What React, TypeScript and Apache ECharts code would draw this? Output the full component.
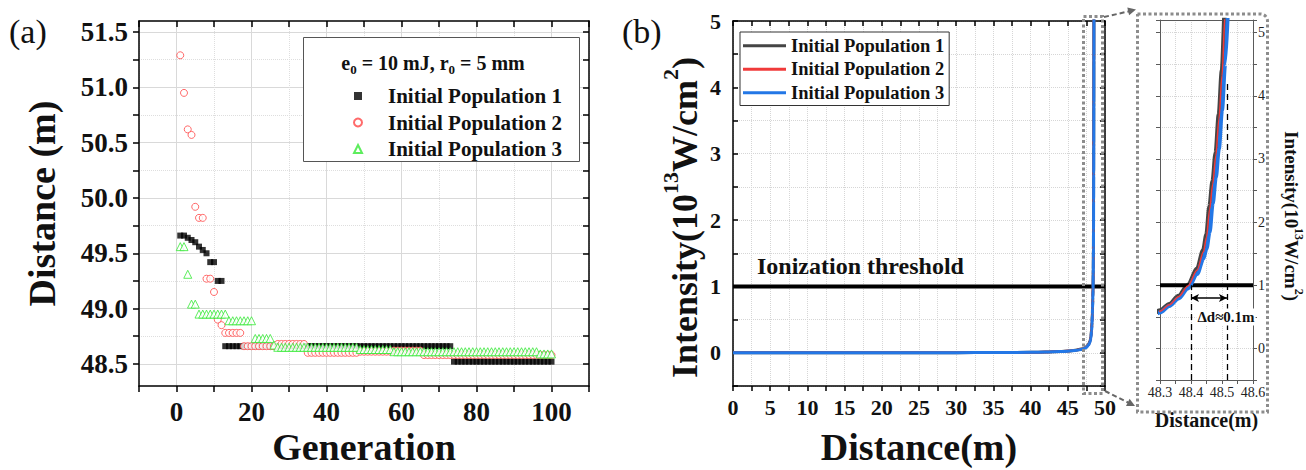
import React, { useEffect, useRef } from "react";
import * as echarts from "echarts";

const FONT = '"Liberation Serif", "Times New Roman", serif';

// ---------- Panel (a): distance per generation ----------
const generations = Array.from({ length: 100 }, (_, i) => i + 1);

const population1Distance = [
  49.66, 49.66, 49.64, 49.62, 49.6, 49.56, 49.53, 49.5, 49.42, 49.42,
  49.25, 49.25, 48.66, 48.66, 48.66, 48.66, 48.66, 48.66, 48.66, 48.66,
  48.66, 48.66, 48.66, 48.66, 48.66, 48.66, 48.66, 48.66, 48.66, 48.66,
  48.66, 48.66, 48.66, 48.66, 48.66, 48.66, 48.66, 48.66, 48.66, 48.66,
  48.66, 48.66, 48.66, 48.66, 48.66, 48.66, 48.66, 48.66, 48.66, 48.66,
  48.66, 48.66, 48.66, 48.66, 48.66, 48.66, 48.66, 48.66, 48.66, 48.66,
  48.66, 48.66, 48.66, 48.66, 48.66, 48.66, 48.66, 48.66, 48.66, 48.66,
  48.66, 48.66, 48.66, 48.52, 48.52, 48.52, 48.52, 48.52, 48.52, 48.52,
  48.52, 48.52, 48.52, 48.52, 48.52, 48.52, 48.52, 48.52, 48.52, 48.52,
  48.52, 48.52, 48.52, 48.52, 48.52, 48.52, 48.52, 48.52, 48.52, 48.52,
];

const population2Distance = [
  51.29, 50.95, 50.62, 50.57, 49.92, 49.82, 49.82, 49.27, 49.27, 49.15,
  48.9, 48.85, 48.78, 48.78, 48.78, 48.78, 48.78, 48.66, 48.66, 48.66,
  48.66, 48.66, 48.66, 48.66, 48.66, 48.66, 48.68, 48.68, 48.68, 48.68,
  48.68, 48.68, 48.68, 48.68, 48.6, 48.6, 48.6, 48.6, 48.6, 48.6,
  48.6, 48.6, 48.6, 48.6, 48.6, 48.6, 48.6, 48.6, 48.61, 48.61,
  48.61, 48.61, 48.61, 48.61, 48.61, 48.61, 48.61, 48.62, 48.62, 48.62,
  48.62, 48.62, 48.62, 48.62, 48.62, 48.58, 48.58, 48.58, 48.58, 48.58,
  48.58, 48.58, 48.58, 48.58, 48.58, 48.58, 48.58, 48.58, 48.58, 48.58,
  48.58, 48.58, 48.58, 48.58, 48.58, 48.58, 48.58, 48.58, 48.58, 48.58,
  48.58, 48.58, 48.58, 48.58, 48.58, 48.58, 48.58, 48.58, 48.58, 48.58,
];

const population3Distance = [
  49.56, 49.56, 49.31, 49.04, 49.04, 48.95, 48.95, 48.95, 48.95, 48.95,
  48.95, 48.95, 48.95, 48.89, 48.89, 48.89, 48.89, 48.89, 48.89, 48.89,
  48.73, 48.73, 48.73, 48.73, 48.73, 48.67, 48.65, 48.65, 48.65, 48.65,
  48.65, 48.65, 48.65, 48.65, 48.65, 48.65, 48.65, 48.65, 48.65, 48.65,
  48.65, 48.65, 48.65, 48.65, 48.65, 48.65, 48.65, 48.65, 48.63, 48.63,
  48.63, 48.63, 48.63, 48.63, 48.63, 48.63, 48.63, 48.61, 48.61, 48.61,
  48.61, 48.61, 48.61, 48.61, 48.61, 48.61, 48.61, 48.61, 48.61, 48.61,
  48.61, 48.61, 48.61, 48.61, 48.61, 48.61, 48.61, 48.61, 48.61, 48.61,
  48.61, 48.61, 48.61, 48.61, 48.61, 48.61, 48.61, 48.61, 48.61, 48.61,
  48.61, 48.61, 48.61, 48.61, 48.61, 48.61, 48.59, 48.59, 48.59, 48.59,
];

const distanceTickValues = [48.5, 48.75, 49, 49.25, 49.5, 49.75, 50, 50.25, 50.5, 50.75, 51, 51.25, 51.5];
const distanceLabelValues = [48.5, 49, 49.5, 50, 50.5, 51, 51.5];

// ---------- Panel (b): intensity along propagation ----------
const propagationDistance = [
  0, 5, 10, 15, 20, 25, 30, 35, 40, 42, 44, 45, 46, 47, 47.5, 47.8, 48.0,
  48.1, 48.2, 48.25, 48.3, 48.33, 48.36, 48.39, 48.42, 48.44, 48.45, 48.46,
  48.47, 48.48, 48.49, 48.5, 48.51, 48.52,
];
const intensity1 = [
  0, 0, 0, 0, 0, 0.001, 0.002, 0.004, 0.008, 0.012, 0.02, 0.027, 0.038, 0.06, 0.09,
  0.13, 0.18, 0.24, 0.36, 0.46, 0.6, 0.7, 0.83, 1.0, 1.26, 1.56, 1.8, 2.25, 2.65,
  3.1, 3.7, 4.4, 5.4, 6.5,
];
const intensity2 = [
  0, 0, 0, 0, 0, 0.001, 0.002, 0.004, 0.008, 0.012, 0.02, 0.027, 0.037, 0.058, 0.088,
  0.127, 0.176, 0.235, 0.35, 0.45, 0.59, 0.69, 0.82, 0.99, 1.24, 1.53, 1.76, 2.2, 2.6,
  3.05, 3.63, 4.32, 5.3, 6.4,
];
const intensity3 = [
  0, 0, 0, 0, 0, 0.001, 0.002, 0.004, 0.007, 0.011, 0.018, 0.025, 0.035, 0.054, 0.082,
  0.118, 0.165, 0.22, 0.33, 0.42, 0.57, 0.67, 0.79, 0.95, 1.18, 1.42, 1.58, 1.84, 2.29,
  2.7, 3.16, 3.77, 4.5, 5.5,
];
const thresholdDistance = [0, 50];
const thresholdIntensity = [1, 1];
const insetThresholdDistance = [48.3, 48.6];
const insetThresholdIntensity = [1, 1];
const crossingDistances = [48.4, 48.516];
const crossingTopIntensity = [1, 4.2];
const deltaArrowIntensity = 0.8;

const legendNames = ["Initial Population 1", "Initial Population 2", "Initial Population 3"];
const curveColors = ["#454545", "#f03a3a", "#2377e6"];

const zip = (xs: number[], ys: number[]) => xs.map((x, i) => [x, ys[i]]);
const isMultiple = (v: number, step: number) => Math.abs(v / step - Math.round(v / step)) < 1e-6;

const CLEAR = "rgba(0,0,0,0)";

export default function App() {
  const ref = useRef<HTMLDivElement>(null);

  useEffect(() => {
    if (!ref.current) return;
    const chart = echarts.init(ref.current, null, { renderer: "svg" });

    const tickFont = { fontFamily: FONT, fontWeight: "bold" as const, color: "#111" };
    const nameStyle = (size: number) => ({ fontFamily: FONT, fontSize: size, fontWeight: "bold" as const, color: "#111" });
    const blackLine = { show: true, onZero: false, lineStyle: { color: "#000", width: 1.5 } };
    const grayLine = { show: true, onZero: false, lineStyle: { color: "#5a5a5a", width: 1 } };

    const option: any = {
      animation: false,
      backgroundColor: "#fff",
      grid: [
        { left: 139, top: 21, width: 450, height: 365, containLabel: false, outerBoundsMode: "none" },
        { left: 733, top: 21, width: 372, height: 365, containLabel: false, outerBoundsMode: "none" },
        { left: 1160, top: 20, width: 93, height: 360, containLabel: false, outerBoundsMode: "none" },
      ],
      xAxis: [
        {
          gridIndex: 0, type: "value", position: "bottom", min: -10, max: 110, interval: 10,
          axisLine: blackLine,
          axisTick: { show: true, inside: false, length: 6, lineStyle: { color: "#000", width: 1.5 } },
          axisLabel: {
            show: true, margin: 12, fontSize: 27, ...tickFont,
            formatter: (v: number) => (v >= 0 && v <= 100 && isMultiple(v, 20) ? String(Math.round(v)) : ""),
          },
          splitLine: { show: true, lineStyle: { color: [CLEAR, "#d9d9d9"], width: 1, type: "solid" } },
          name: "Generation", nameLocation: "middle", nameGap: 42, nameMoveOverlap: false,
          nameTextStyle: nameStyle(38),
        },
        {
          gridIndex: 0, type: "value", position: "top", min: -10, max: 110, interval: 10,
          axisLine: blackLine,
          axisTick: { show: true, inside: true, length: 6, lineStyle: { color: "#000", width: 1.5 } },
          axisLabel: { show: false },
          splitLine: { show: true, lineStyle: { color: ["#dedede", CLEAR], width: 1, type: "dotted" } },
        },
        {
          gridIndex: 1, type: "value", position: "bottom", min: 0, max: 50, interval: 2.5,
          axisLine: blackLine,
          axisTick: { show: true, inside: false, length: 5, lineStyle: { color: "#000", width: 1.5 } },
          axisLabel: {
            show: true, margin: 10, fontSize: 22, ...tickFont,
            formatter: (v: number) => (isMultiple(v, 5) ? String(Math.round(v)) : ""),
          },
          splitLine: { show: true, lineStyle: { color: "#d6d6d6", width: 1, type: "dotted" } },
          name: "Distance(m)", nameLocation: "middle", nameGap: 42, nameMoveOverlap: false,
          nameTextStyle: nameStyle(38),
        },
        {
          gridIndex: 1, type: "value", position: "top", min: 0, max: 50, interval: 2.5,
          axisLine: blackLine,
          axisTick: { show: true, inside: true, length: 5, lineStyle: { color: "#000", width: 1.5 } },
          axisLabel: { show: false },
          splitLine: { show: false },
        },
        {
          gridIndex: 2, type: "value", position: "bottom", min: 48.3, max: 48.6, interval: 0.05,
          axisLine: grayLine,
          axisTick: { show: true, inside: false, length: 4, lineStyle: { color: "#5a5a5a", width: 1 } },
          axisLabel: {
            show: true, margin: 5, fontSize: 14, fontFamily: FONT, color: "#222",
            formatter: (v: number) => (isMultiple(v, 0.1) ? v.toFixed(1) : ""),
          },
          splitLine: { show: true, lineStyle: { color: "#d6d6d6", width: 1, type: "dotted" } },
          name: "Distance(m)", nameLocation: "middle", nameGap: 30, nameMoveOverlap: false,
          nameTextStyle: nameStyle(20),
        },
        {
          gridIndex: 2, type: "value", position: "top", min: 48.3, max: 48.6, interval: 0.05,
          axisLine: grayLine,
          axisTick: { show: false },
          axisLabel: { show: false },
          splitLine: { show: false },
        },
      ],
      yAxis: [
        {
          gridIndex: 0, type: "value", position: "left", min: 48.3, max: 51.6,
          axisLine: blackLine,
          axisTick: { show: true, inside: false, length: 6, customValues: distanceTickValues, lineStyle: { color: "#000", width: 1.5 } },
          axisLabel: {
            show: true, margin: 11, fontSize: 27, ...tickFont, customValues: distanceLabelValues,
            formatter: (v: number) => v.toFixed(1),
          },
          splitLine: { show: true, lineStyle: { color: ["#d9d9d9", CLEAR], width: 1, type: "solid" } },
          name: "Distance (m)", nameLocation: "middle", nameGap: 78, nameMoveOverlap: false,
          nameTextStyle: nameStyle(38),
        },
        {
          gridIndex: 0, type: "value", position: "right", min: 48.3, max: 51.6,
          axisLine: blackLine,
          axisTick: { show: true, inside: true, length: 6, customValues: distanceTickValues, lineStyle: { color: "#000", width: 1.5 } },
          axisLabel: { show: false },
          splitLine: { show: true, lineStyle: { color: [CLEAR, "#dedede"], width: 1, type: "dotted" } },
        },
        {
          gridIndex: 1, type: "value", position: "left", min: -0.5, max: 5, interval: 0.5,
          axisLine: blackLine,
          axisTick: { show: true, inside: true, length: 5, lineStyle: { color: "#000", width: 1.5 } },
          axisLabel: {
            show: true, margin: 12, fontSize: 22, ...tickFont,
            formatter: (v: number) => (isMultiple(v, 1) && v >= 0 ? String(Math.round(v)) : ""),
          },
          splitLine: { show: true, lineStyle: { color: "#d6d6d6", width: 1, type: "dotted" } },
          name: "{n|Intensity(10}{p|13}{n|W/cm}{p|2}{n|)}",
          nameLocation: "middle", nameGap: 22, nameMoveOverlap: false,
          nameTextStyle: {
            padding: [0, 28, 0, 0],
            rich: {
              n: { ...nameStyle(36), lineHeight: 52 },
              p: { ...nameStyle(22), lineHeight: 22, padding: [0, 0, 30, 0] },
            },
          },
        },
        {
          gridIndex: 1, type: "value", position: "right", min: -0.5, max: 5, interval: 0.5,
          axisLine: blackLine,
          axisTick: { show: true, inside: true, length: 5, lineStyle: { color: "#000", width: 1.5 } },
          axisLabel: { show: false },
          splitLine: { show: false },
        },
        {
          gridIndex: 2, type: "value", position: "right", min: -0.5, max: 5.2, interval: 0.5,
          axisLine: grayLine,
          axisTick: { show: true, inside: false, length: 4, lineStyle: { color: "#5a5a5a", width: 1 } },
          axisLabel: {
            show: true, margin: 5, fontSize: 14, fontFamily: FONT, color: "#222",
            formatter: (v: number) => (isMultiple(v, 1) && v >= 0 && v <= 5 ? String(Math.round(v)) : ""),
          },
          splitLine: { show: true, lineStyle: { color: "#d6d6d6", width: 1, type: "dotted" } },
          name: "{n|Intensity(10}{p|13}{n|W/cm}{p|2}{n|)}",
          nameLocation: "middle", nameGap: 24, nameRotate: -90, nameMoveOverlap: false,
          nameTextStyle: {
            padding: [0, 0, 0, 32],
            rich: {
              n: { ...nameStyle(19), lineHeight: 28 },
              p: { ...nameStyle(12), lineHeight: 12, padding: [0, 0, 16, 0] },
            },
          },
        },
        {
          gridIndex: 2, type: "value", position: "left", min: -0.5, max: 5.2, interval: 0.5,
          axisLine: grayLine,
          axisTick: { show: true, inside: false, length: 4, lineStyle: { color: "#5a5a5a", width: 1 } },
          axisLabel: { show: false },
          splitLine: { show: false },
        },
      ],
      legend: [
        {
          left: 353, top: 83, orient: "vertical", padding: 0, itemGap: 0.5,
          itemWidth: 8, itemHeight: 8, selectedMode: false,
          data: legendNames,
          textStyle: { fontFamily: FONT, fontSize: 21, fontWeight: "bold", color: "#111", lineHeight: 26, padding: [0, 0, 0, 21] },
        },
        {
          left: 740, top: 32, orient: "vertical", padding: [2, 5, 1, 3], itemGap: 0,
          itemWidth: 43, itemHeight: 3, selectedMode: false,
          borderColor: "#333", borderWidth: 1, backgroundColor: "#fff",
          data: legendNames.map((n) => ({ name: n + " ", icon: "rect" })),
          formatter: (n: string) => n.trim(),
          textStyle: { fontFamily: FONT, fontSize: 18.5, fontWeight: "bold", color: "#111", lineHeight: 23.5 },
        },
      ],
      series: [
        {
          name: legendNames[0], type: "scatter", xAxisIndex: 0, yAxisIndex: 0,
          symbol: "rect", symbolSize: 6, itemStyle: { color: "#000" },
          data: zip(generations, population1Distance),
        },
        {
          name: legendNames[1], type: "scatter", xAxisIndex: 0, yAxisIndex: 0,
          symbol: "circle", symbolSize: 7, itemStyle: { color: "#fff", borderColor: "#ff4545", borderWidth: 1 },
          data: zip(generations, population2Distance),
        },
        {
          name: legendNames[2], type: "scatter", xAxisIndex: 0, yAxisIndex: 0,
          symbol: "triangle", symbolSize: 8, itemStyle: { color: "#fff", borderColor: "#35e835", borderWidth: 1 },
          data: zip(generations, population3Distance),
        },
        {
          name: "Ionization threshold", type: "line", xAxisIndex: 2, yAxisIndex: 2,
          symbol: "none", lineStyle: { color: "#000", width: 4 },
          data: zip(thresholdDistance, thresholdIntensity),
        },
        ...[intensity1, intensity2, intensity3].map((ys, i) => ({
          name: legendNames[i] + " ", type: "line", xAxisIndex: 2, yAxisIndex: 2,
          symbol: "none", smooth: 0.3, smoothMonotone: "x", clip: true,
          lineStyle: { color: curveColors[i], width: i === 1 ? 2.5 : 3 },
          itemStyle: { color: curveColors[i] },
          data: zip(propagationDistance, ys),
        })),
        {
          name: "Ionization threshold inset", type: "line", xAxisIndex: 4, yAxisIndex: 4,
          symbol: "none", lineStyle: { color: "#000", width: 4 },
          data: zip(insetThresholdDistance, insetThresholdIntensity),
        },
        ...[intensity1, intensity2, intensity3].map((ys, i) => ({
          name: legendNames[i] + " ", type: "line", xAxisIndex: 4, yAxisIndex: 4,
          symbol: "none", smooth: 0.3, smoothMonotone: "x", clip: true,
          lineStyle: { color: curveColors[i], width: [4.5, 1.5, 4][i] },
          itemStyle: { color: curveColors[i] },
          data: zip(propagationDistance, ys),
          z: [2, 4, 3][i],
        })),
        {
          name: "Δd", type: "line", xAxisIndex: 4, yAxisIndex: 4, data: [],
          markLine: {
            silent: true, symbol: "none", label: { show: false },
            lineStyle: { color: "#000", width: 1.3, type: [6, 4] },
            data: [
              [{ coord: [crossingDistances[0], -0.5] }, { coord: [crossingDistances[0], crossingTopIntensity[0]] }],
              [{ coord: [crossingDistances[1], -0.5] }, { coord: [crossingDistances[1], crossingTopIntensity[1]] }],
              [
                { coord: [crossingDistances[0], deltaArrowIntensity], symbol: "arrow", symbolSize: [6, 8], lineStyle: { type: "solid", width: 1.5 } },
                { coord: [crossingDistances[1], deltaArrowIntensity], symbol: "arrow", symbolSize: [6, 8], lineStyle: { type: "solid", width: 1.5 } },
              ],
            ],
          },
        },
      ],
      graphic: [
        { type: "text", x: 9, y: 31, z: 5, style: { text: "(a)", fontFamily: FONT, fontSize: 34, fill: "#111", verticalAlign: "middle", textVerticalAlign: "middle" } },
        { type: "text", x: 622, y: 31, z: 5, style: { text: "(b)", fontFamily: FONT, fontSize: 34, fill: "#111", verticalAlign: "middle", textVerticalAlign: "middle" } },
        { type: "rect", z: 1, shape: { x: 303.5, y: 37.5, width: 276, height: 124 }, style: { fill: "#fff", stroke: "#555", lineWidth: 1 } },
        {
          type: "text", x: 433, y: 63, z: 5,
          style: {
            text: "{b|e}{s|0}{b| = 10 mJ, r}{s|0}{b| = 5 mm}",
            align: "center", verticalAlign: "middle", textAlign: "center", textVerticalAlign: "middle",
            rich: {
              b: { fontFamily: FONT, fontSize: 20, fontWeight: "bold", fill: "#111", color: "#111", lineHeight: 26 },
              s: { fontFamily: FONT, fontSize: 13, fontWeight: "bold", fill: "#111", color: "#111", lineHeight: 13, padding: [13, 0, 0, 0] },
            },
          },
        },
        {
          type: "text", x: 757, y: 266, z: 5,
          style: { text: "Ionization threshold", fontFamily: FONT, fontSize: 24, fontWeight: "bold", fill: "#111", verticalAlign: "middle", textVerticalAlign: "middle" },
        },
        {
          type: "text", x: 1226, y: 317, z: 20,
          style: {
            text: "Δd≈0.1m", fontFamily: FONT, fontSize: 15, fontWeight: "bold", fill: "#111",
            backgroundColor: "#fff", padding: [1, 1, 1, 1],
            align: "center", verticalAlign: "middle", textAlign: "center", textVerticalAlign: "middle",
          },
        },
        { type: "rect", z: 10, shape: { x: 1083.5, y: 16.5, width: 19, height: 377 }, style: { fill: CLEAR, stroke: "#8c8c8c", lineWidth: 3, lineDash: [3, 2.5] } },
        { type: "rect", z: 10, shape: { x: 1137.5, y: 14, width: 130, height: 398, r: [0, 7, 0, 0] }, style: { fill: CLEAR, stroke: "#8c8c8c", lineWidth: 3, lineDash: [3, 2.5] } },
        { type: "line", z: 10, shape: { x1: 1104, y1: 17, x2: 1129, y2: 11.3 }, style: { stroke: "#666", lineWidth: 2, lineDash: [5, 3] } },
        { type: "polygon", z: 10, shape: { points: [[1136, 9.5], [1129.1, 15.2], [1127.3, 7.4]] }, style: { fill: "#666" } },
        { type: "line", z: 10, shape: { x1: 1105, y1: 391, x2: 1128, y2: 402.5 }, style: { stroke: "#666", lineWidth: 2, lineDash: [5, 3] } },
        { type: "polygon", z: 10, shape: { points: [[1135, 406], [1126, 406], [1129.6, 398.8]] }, style: { fill: "#666" } },
      ],
    };

    chart.setOption(option);
    return () => chart.dispose();
  }, []);

  return (
    <div
      ref={ref}
      style={{ position: "absolute", left: 0, top: 0, width: 1306, height: 470, background: "#fff" }}
    />
  );
}
